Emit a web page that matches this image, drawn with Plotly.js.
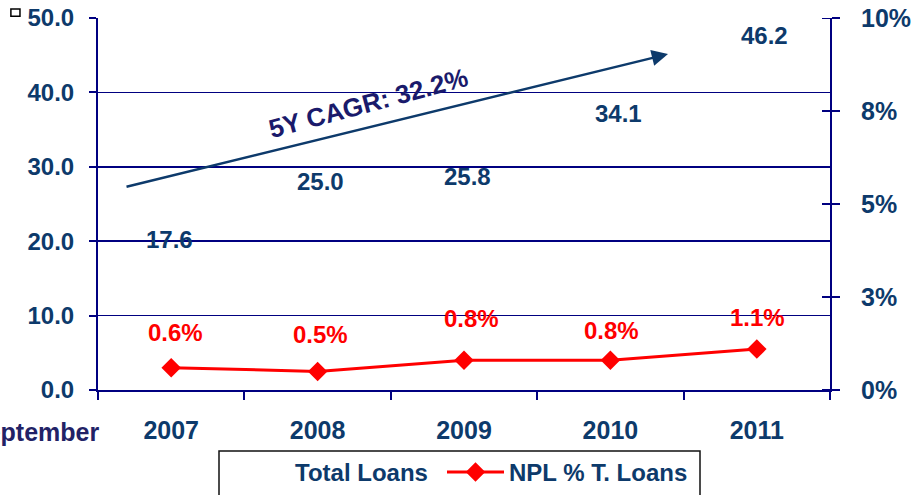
<!DOCTYPE html>
<html>
<head>
<meta charset="utf-8">
<script src="https://cdn.plot.ly/plotly-3.0.1.min.js"></script>
<style>html,body{margin:0;padding:0;background:#fff;}#chart{width:913px;height:495px;}</style>
</head>
<body>
<div id="chart"></div>
<script>
// ---- data ----
var years = ['2007', '2008', '2009', '2010', '2011'];
var totalLoans = [17.6, 25.0, 25.8, 34.1, 46.2];
var nplPct = [0.6, 0.5, 0.8, 0.8, 1.1];
var nplLabels = ['0.6%', '0.5%', '0.8%', '0.8%', '1.1%'];
var leftTickVals = [0, 10, 20, 30, 40, 50];
var leftTickText = ['0.0', '10.0', '20.0', '30.0', '40.0', '50.0'];
var rightTickVals = [0, 2.5, 5, 7.5, 10];
var rightTickText = ['0%', '3%', '5%', '8%', '10%'];
var cagrText = '5Y CAGR: 32.2%';
var periodText = 'September';

// ---- styles ----
var FONT = 'Liberation Sans, Arial, sans-serif';
var NAVY = '#000080';
var TXT = '#0d3a6b';
var loanShiftY = [20, 23, 22, 23, 11];
var loanShiftX = [-2, 3, 3, 8, 8];
var nplShiftY = [35, 37, 42, 30, 32];
var nplShiftX = [4, 3, 7, 1, 1];
var PW = 732, PH = 372; // plot area size in px

var traces = [
  {
    type: 'bar', name: 'Total Loans', x: years, y: totalLoans,
    marker: {color: 'rgba(0,0,0,0)', line: {width: 0}},
    yaxis: 'y', hoverinfo: 'skip', legend: 'legend'
  },
  {
    type: 'scatter', mode: 'lines+markers', name: 'NPL % T. Loans',
    x: years, y: nplPct, yaxis: 'y2', legend: 'legend2',
    line: {color: '#ff0000', width: 3},
    marker: {symbol: 'diamond', size: 15, color: '#ff0000'},
    hoverinfo: 'skip'
  }
];

var annotations = [];
years.forEach(function (yr, i) {
  annotations.push({
    xref: 'x', yref: 'y', x: i, y: totalLoans[i],
    text: totalLoans[i].toFixed(1), showarrow: false,
    yanchor: 'middle', xanchor: 'center',
    yshift: loanShiftY[i], xshift: loanShiftX[i],
    font: {family: FONT, size: 24, color: TXT, weight: 'bold'}
  });
  annotations.push({
    xref: 'x', yref: 'y2', x: i, y: nplPct[i],
    text: nplLabels[i], showarrow: false,
    yanchor: 'middle', xanchor: 'center',
    yshift: nplShiftY[i], xshift: nplShiftX[i],
    font: {family: FONT, size: 24, color: '#ff0000', weight: 'bold'}
  });
});
// CAGR arrow
annotations.push({
  xref: 'paper', yref: 'paper', x: 0.7787, y: 0.903,
  ax: -543, ay: 133, axref: 'pixel', ayref: 'pixel',
  text: '', showarrow: true, arrowhead: 2, arrowsize: 1.3, arrowwidth: 2.5,
  arrowcolor: '#0d3a6b', standoff: 0
});
annotations.push({
  xref: 'paper', yref: 'paper', x: 0.3702, y: 0.7715,
  text: cagrText, showarrow: false, textangle: -15,
  xanchor: 'center', yanchor: 'middle',
  font: {family: FONT, size: 26, color: '#1a1a6b', weight: 'bold'}
});
annotations.push({
  xref: 'paper', yref: 'paper', x: 0.004, y: -0.113,
  text: periodText, showarrow: false, xanchor: 'right', yanchor: 'middle',
  font: {family: FONT, size: 25, color: '#222266', weight: 'bold'}
});

var shapes = [
  {type: 'rect', xref: 'paper', yref: 'paper', x0: -0.119, x1: -0.1066, y0: 1.005, y1: 1.024,
   line: {color: '#000000', width: 1.5}, fillcolor: 'rgba(0,0,0,0)'},
  // legend frame
  {type: 'rect', xref: 'paper', yref: 'paper',
   x0: (219 - 98) / PW, x1: (700 - 98) / PW, y0: (390 - 451) / PH, y1: (390 - 505) / PH,
   line: {color: '#111111', width: 1.5}, fillcolor: 'rgba(0,0,0,0)'}
];
// inside half of right axis ticks (cross ticks)
rightTickVals.forEach(function (v) {
  shapes.push({type: 'line', xref: 'paper', yref: 'y2', x0: 1, x1: 1 - 8 / PW, y0: v, y1: v,
    line: {color: NAVY, width: 2}});
});

var legendFont = {family: FONT, size: 24, color: TXT, weight: 'bold'};
var layout = {
  width: 913, height: 495,
  margin: {l: 98, r: 83, t: 18, b: 105, autoexpand: false},
  paper_bgcolor: '#ffffff', plot_bgcolor: '#ffffff',
  showlegend: true,
  legend: {
    orientation: 'h', x: (228 - 98) / PW, y: -0.161, xanchor: 'left', yanchor: 'top',
    borderwidth: 0, bgcolor: 'rgba(0,0,0,0)', itemwidth: 57, font: legendFont
  },
  legend2: {
    orientation: 'h', x: (442 - 98) / PW, y: -0.161, xanchor: 'left', yanchor: 'top',
    borderwidth: 0, bgcolor: 'rgba(0,0,0,0)', itemwidth: 57, font: legendFont
  },
  xaxis: {
    type: 'category', range: [-0.5, 4.5], fixedrange: true,
    showline: true, linecolor: NAVY, linewidth: 2,
    ticks: 'outside', tickson: 'boundaries', ticklen: 8, tickwidth: 2, tickcolor: NAVY,
    showgrid: false, ticklabelstandoff: 17,
    tickfont: {family: FONT, size: 25, color: TXT, weight: 'bold'}
  },
  yaxis: {
    range: [0, 50], tickvals: leftTickVals, ticktext: leftTickText,
    showline: true, linecolor: NAVY, linewidth: 2,
    ticks: 'outside', ticklen: 7, tickwidth: 2, tickcolor: NAVY,
    showgrid: true, gridcolor: NAVY, gridwidth: 1.5, zeroline: false,
    ticklabelstandoff: 10,
    tickfont: {family: FONT, size: 24, color: TXT, weight: 'bold'}
  },
  yaxis2: {
    range: [0, 10], overlaying: 'y', side: 'right',
    tickvals: rightTickVals, ticktext: rightTickText,
    showline: true, linecolor: NAVY, linewidth: 2,
    ticks: 'outside', ticklen: 8, tickwidth: 2, tickcolor: NAVY,
    showgrid: false, zeroline: false, ticklabelstandoff: 16,
    tickfont: {family: FONT, size: 25, color: TXT, weight: 'bold'}
  },
  bargap: 0.4,
  annotations: annotations,
  shapes: shapes
};

Plotly.newPlot('chart', traces, layout, {staticPlot: true, displayModeBar: false});
</script>
</body>
</html>
